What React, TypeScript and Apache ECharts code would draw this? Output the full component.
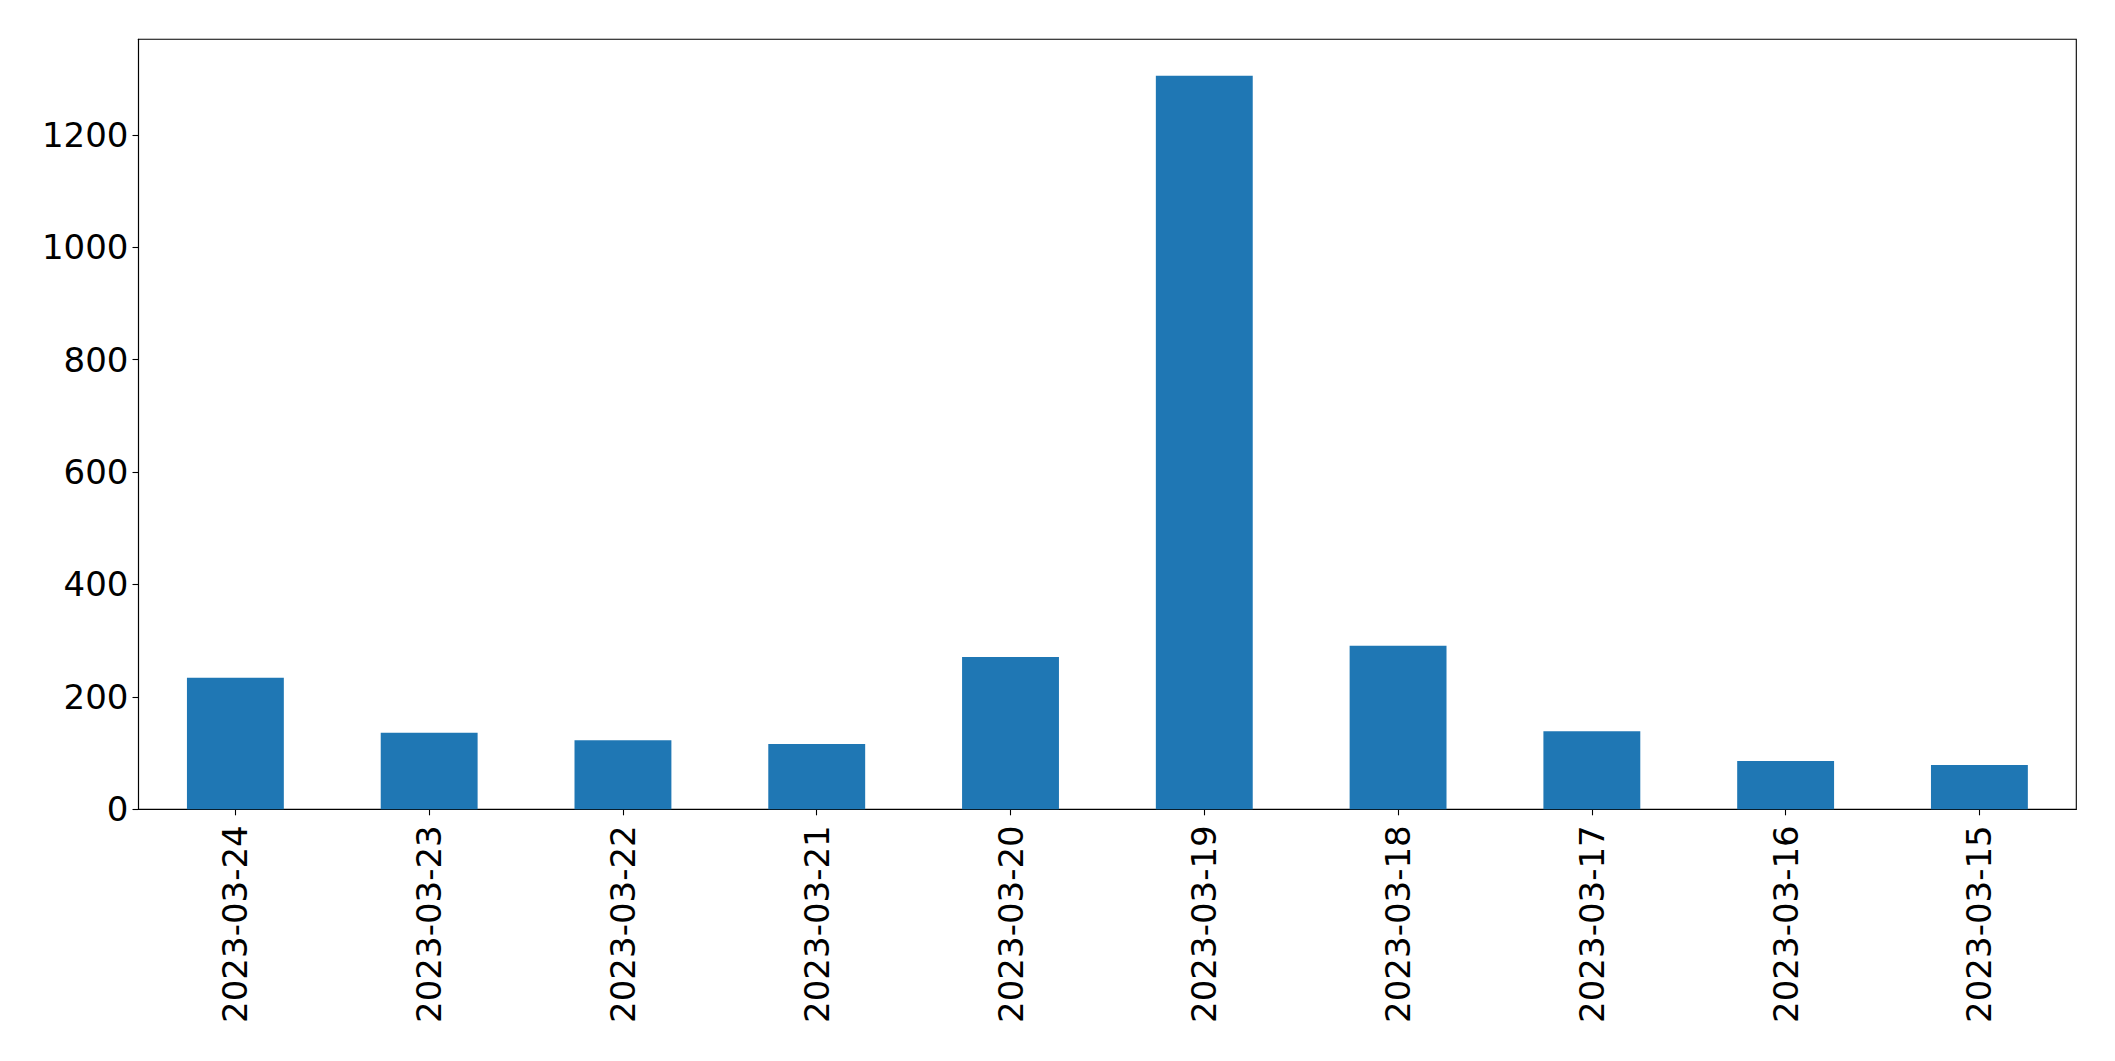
import React, { useEffect, useRef } from "react";
import * as echarts from "echarts";

const categories = [
  "2023-03-24",
  "2023-03-23",
  "2023-03-22",
  "2023-03-21",
  "2023-03-20",
  "2023-03-19",
  "2023-03-18",
  "2023-03-17",
  "2023-03-16",
  "2023-03-15",
];
const values = [234, 136, 123, 116, 271, 1305, 291, 139, 86, 79];
const yMax = 1370;
const yInterval = 200;

export default function App() {
  const ref = useRef<HTMLDivElement>(null);
  useEffect(() => {
    if (!ref.current) return;
    const chart = echarts.init(ref.current, null, { renderer: "svg" });
    const font = "DejaVu Sans";
    chart.setOption({
      animation: false,
      backgroundColor: "#ffffff",
      grid: {
        show: true,
        left: 138.5,
        top: 39.3,
        right: 38.7,
        bottom: 251.7,
        borderColor: "#000000",
        borderWidth: 1.1,
        backgroundColor: "transparent",
      },
      xAxis: {
        type: "category",
        data: categories,
        boundaryGap: true,
        axisLine: { show: true, lineStyle: { color: "#000000", width: 1.1 } },
        axisTick: {
          show: true,
          alignWithLabel: true,
          length: 6,
          lineStyle: { color: "#000000", width: 1.1 },
        },
        axisLabel: {
          rotate: 90,
          margin: 16,
          color: "#000000",
          fontSize: 34,
          fontFamily: font,
          interval: 0,
        },
        splitLine: { show: false },
      },
      yAxis: {
        type: "value",
        min: 0,
        max: yMax,
        interval: yInterval,
        axisLine: { show: true, lineStyle: { color: "#000000", width: 1.1 } },
        axisTick: {
          show: true,
          length: 6,
          lineStyle: { color: "#000000", width: 1.1 },
        },
        axisLabel: {
          margin: 10,
          color: "#000000",
          fontSize: 34,
          fontFamily: font,
          showMaxLabel: false,
          formatter: (v: number) => (v % yInterval === 0 ? String(v) : ""),
        },
        splitLine: { show: false },
      },
      series: [
        {
          type: "bar",
          data: values,
          barWidth: "50%",
          itemStyle: { color: "#1f77b4" },
        },
      ],
    });
    return () => chart.dispose();
  }, []);
  return (
    <div
      ref={ref}
      style={{ position: "fixed", left: 0, top: 0, width: 2115, height: 1061, background: "#fff" }}
    />
  );
}
